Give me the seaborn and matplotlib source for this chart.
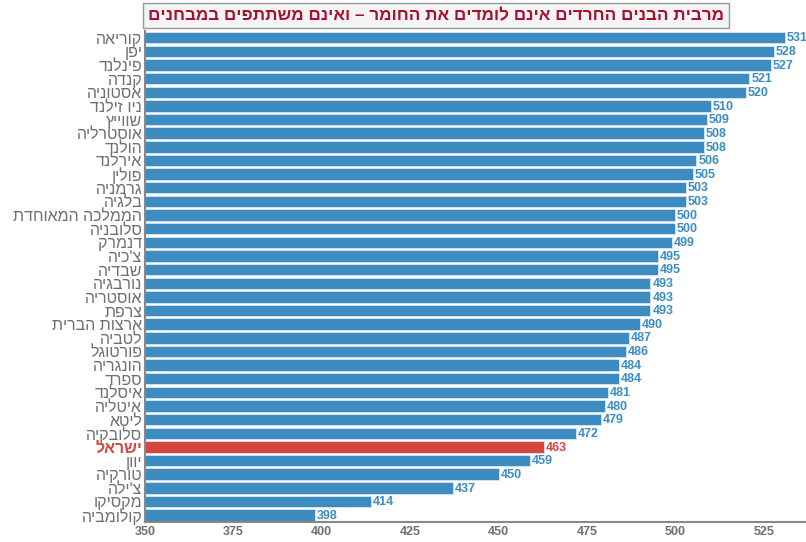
import pandas as pd
import seaborn as sns
import matplotlib.pyplot as plt

# data
countries = ["קוריאה", "יפן", "פינלנד", "קנדה", "אסטוניה", "ניו זילנד", "שווייץ",
             "אוסטרליה", "הולנד", "אירלנד", "פולין", "גרמניה", "בלגיה",
             "הממלכה המאוחדת", "סלובניה", "דנמרק", "צ'כיה", "שבדיה", "נורבגיה",
             "אוסטריה", "צרפת", "ארצות הברית", "לטביה", "פורטוגל", "הונגריה",
             "ספרד", "איסלנד", "איטליה", "ליטא", "סלובקיה", "ישראל", "יוון",
             "טורקיה", "צ'ילה", "מקסיקו", "קולומביה"]
scores = [531, 528, 527, 521, 520, 510, 509, 508, 508, 506, 505, 503, 503,
          500, 500, 499, 495, 495, 493, 493, 493, 490, 487, 486, 484, 484,
          481, 480, 479, 472, 463, 459, 450, 437, 414, 398]
title = "מרבית הבנים החרדים אינם לומדים את החומר – ואינם משתתפים במבחנים"
highlight = "ישראל"
x_ticks = [350, 375, 400, 425, 450, 475, 500, 525]

blue = "#3d8cc1"
red = "#d5463e"
grey = "#6f6f6f"


def rtl(s):
    # matplotlib has no bidi support, flip hebrew text by hand
    return s[::-1]


df = pd.DataFrame({"country": [rtl(c) for c in countries], "score": scores})
df["group"] = ["hl" if c == highlight else "other" for c in countries]

sns.set_style("white")
plt.rcParams["font.family"] = ["Liberation Sans", "DejaVu Sans"]

fig = plt.figure(figsize=(8.06, 5.42), dpi=100)
ax = fig.add_axes([0.18, 0.037, 0.82, 0.906])

sns.barplot(data=df, x="score", y="country", hue="group",
            palette={"hl": red, "other": blue}, orient="h", width=0.84,
            saturation=1, edgecolor="#d6e6f2", linewidth=0.6, legend=False,
            ax=ax)

ax.set_xlim(350, 537)
ax.set_xticks(x_ticks)
ax.set_xlabel("")
ax.set_ylabel("")

for i, (c, v) in enumerate(zip(countries, scores)):
    col = red if c == highlight else blue
    ax.text(v + 0.5, i + 0.05, str(v), va="center", ha="left", fontsize=9,
            fontweight="bold", color=col)

ax.tick_params(axis="x", colors=grey, labelsize=9, length=4, width=1,
               direction="inout", pad=1)
ax.tick_params(axis="y", length=0, pad=2, labelsize=11.5)
for lab in ax.get_xticklabels():
    lab.set_fontweight("bold")
for lab in ax.get_yticklabels():
    if lab.get_text() == rtl(highlight):
        lab.set_color(red)
        lab.set_fontweight("bold")
    else:
        lab.set_color(grey)

for side in ["top", "right"]:
    ax.spines[side].set_visible(False)
for side in ["left", "bottom"]:
    ax.spines[side].set_color("#888888")
    ax.spines[side].set_linewidth(1.5)

fig.text(0.541, 0.971, rtl(title), ha="center", va="center", fontsize=12.3,
         fontweight="bold", color="#a8102e",
         bbox=dict(boxstyle="square,pad=0.3", facecolor="#f4f4f4",
                   edgecolor="#999999", linewidth=1))

fig.savefig("out.png", dpi=100)
